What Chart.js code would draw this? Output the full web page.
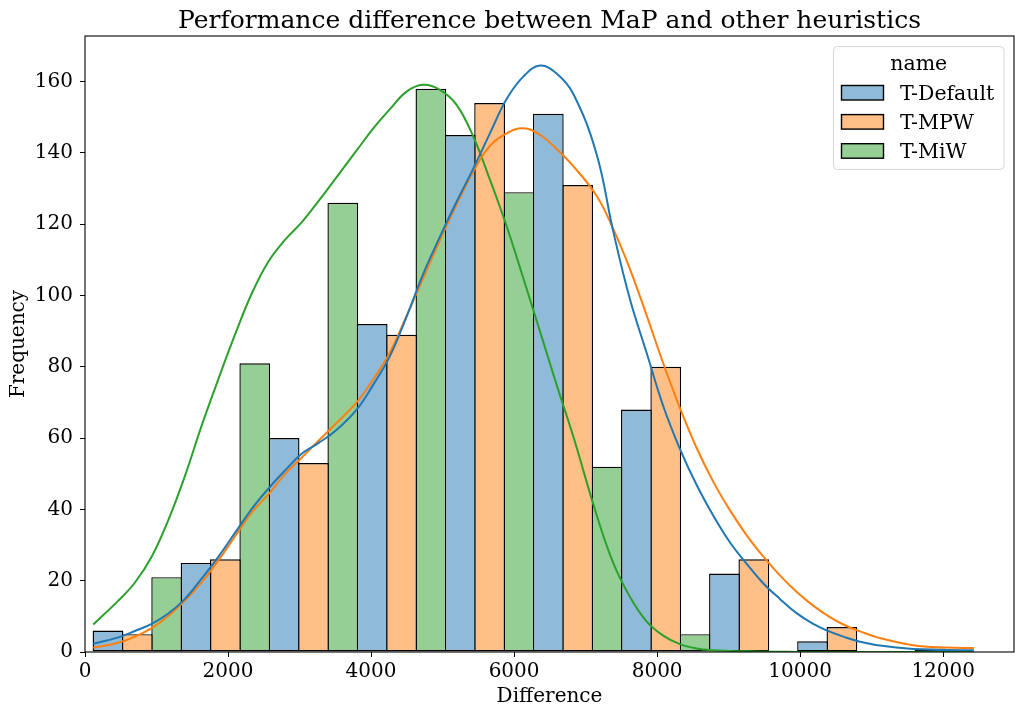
<!DOCTYPE html>
<html>
<head>
<meta charset="utf-8">
<style>
html,body{margin:0;padding:0;background:#ffffff;}
#wrap{width:1024px;height:715px;position:relative;}
</style>
<script src="https://cdn.jsdelivr.net/npm/chart.js@4.4.0/dist/chart.umd.min.js"></script>
</head>
<body>
<div id="wrap"><canvas id="c" width="1024" height="715"></canvas></div>
<script>
// ---- data ----
const chartTitle = 'Performance difference between MaP and other heuristics';
const xLabel = 'Difference';
const yLabel = 'Frequency';
const legendTitle = 'name';
const seriesNames = ['T-Default', 'T-MPW', 'T-MiW'];
const lineColors = ['#1f77b4', '#ff7f0e', '#2ca02c'];
const barColors = ['#8fbbd9', '#ffbf86', '#95cf95'];

const binEdges = [116, 1347, 2579, 3810, 5042, 6273, 7505, 8736, 9968, 11199, 12431];
const countsDefault = [6, 25, 60, 92, 145, 151, 68, 22, 3, 0];
const countsMPW     = [5, 26, 53, 89, 154, 131, 80, 26, 7, 1];
const countsMiW     = [21, 81, 126, 158, 129, 52, 5, 0, 0, 0];

const kdeX = [116, 466, 699, 932, 1165, 1398, 1631, 1864, 2097, 2330, 2563, 2796, 3029, 3262, 3495,
  3798, 4031, 4264, 4497, 4730, 4963, 5196, 5429, 5662, 5895, 6128, 6361, 6594, 6827,
  7153, 7386, 7619, 7852, 8085, 8318, 8551, 8784, 9017, 9250, 9483, 9716, 9949, 10182, 10415, 10648, 10835,
  11114, 11580, 12046, 12430];
const kdeDefault = [2.3, 4.1, 5.9, 7.9, 10.8, 14.9, 20.6, 26.7, 33.4, 40.1, 45.8, 50.9, 55.6, 58.6, 61.9,
  68.0, 75.0, 83.0, 94.1, 106.1, 116.5, 126.3, 135.6, 145.5, 155.1, 161.4, 164.5, 162.3, 156.6,
  139.7, 118.0, 99.0, 84.0, 69.0, 57.0, 46.9, 38.3, 30.8, 24.8, 19.3, 14.9, 10.9, 7.9, 5.7, 4.0, 2.9,
  1.8, 0.85, 0.55, 0.5];
const kdeMPW = [1.2, 2.6, 4.3, 6.7, 10.1, 14.4, 19.5, 25.7, 32.4, 39.1, 44.2, 49.9, 54.5, 59.2, 63.8,
  70.0, 76.5, 84.0, 94.3, 104.9, 115.5, 125.5, 134.8, 142.0, 145.5, 146.9, 145.1, 141.1, 136.3,
  128.0, 118.7, 107.5, 94.5, 81.0, 68.5, 57.3, 47.8, 39.8, 32.8, 26.8, 21.5, 16.9, 13.0, 9.8, 7.3, 5.8,
  3.9, 1.9, 1.25, 1.1];
const kdeMiW = [7.7, 14.4, 19.5, 26.7, 37.0, 49.4, 63.5, 76.5, 89.0, 100.5, 109.5, 115.6, 120.5, 126.4, 132.6,
  140.7, 146.9, 152.3, 157.2, 159.1, 157.7, 153.5, 144.6, 132.5, 119.5, 104.9, 90.0, 75.0, 60.5,
  38.5, 25.0, 15.5, 8.6, 4.6, 2.2, 1.0, 0.5, 0.3, 0.2, 0.1, 0.05, 0.03, 0.02, 0.01, 0, 0,
  0, 0, 0, 0];

const xTicks = [0, 2000, 4000, 6000, 8000, 10000, 12000];
const yTicks = [0, 20, 40, 60, 80, 100, 120, 140, 160];
const xRange = [0, 12990];
const yRange = [0, 172.8];

// ---- build datasets ----
const FONT = '"DejaVu Serif", "Liberation Serif", serif';
const counts = [countsDefault, countsMPW, countsMiW];
const kdes = [kdeDefault, kdeMPW, kdeMiW];
const nSeries = seriesNames.length;
const EDGE = 1.4;

const barSets = seriesNames.map((name, s) => ({
  type: 'bar',
  label: name,
  data: counts[s].map((c, i) => {
    const w = binEdges[i + 1] - binEdges[i];
    return { x: binEdges[i] + w * (s + 0.5) / nSeries, y: c };
  }),
  backgroundColor: barColors[s],
  borderColor: '#000000',
  borderWidth: EDGE,
  borderSkipped: false,
  grouped: false,
  barPercentage: 1.048,
  categoryPercentage: 1,
  order: 2
}));

const lineSets = seriesNames.map((name, s) => ({
  type: 'line',
  label: name + ' kde',
  data: kdeX.map((x, i) => ({ x: x, y: kdes[s][i] })),
  borderColor: lineColors[s],
  borderWidth: 2,
  pointRadius: 0,
  fill: false,
  tension: 0.4,
  order: 1
}));

const titlePlugin = {
  id: 'mplTitle',
  afterDraw(chart) {
    const { ctx, chartArea: a } = chart;
    ctx.save();
    ctx.fillStyle = '#000';
    ctx.font = '25px ' + FONT;
    ctx.textAlign = 'center';
    ctx.textBaseline = 'alphabetic';
    ctx.fillText(chartTitle, (a.left + a.right) / 2, 28.3);
    ctx.restore();
  }
};

const framePlugin = {
  id: 'frame',
  afterDatasetsDraw(chart) {
    const { ctx, chartArea: a } = chart;
    ctx.save();
    ctx.strokeStyle = '#000';
    ctx.lineWidth = 1.1;
    ctx.strokeRect(a.left, a.top, a.right - a.left, a.bottom - a.top);
    ctx.restore();
  }
};

const legendPlugin = {
  id: 'mplLegend',
  afterDraw(chart) {
    const ctx = chart.ctx;
    const x0 = 833.5, y0 = 46.5, w = 170.5, h = 123, r = 4;
    ctx.save();
    ctx.beginPath();
    ctx.moveTo(x0 + r, y0);
    ctx.lineTo(x0 + w - r, y0);
    ctx.arcTo(x0 + w, y0, x0 + w, y0 + r, r);
    ctx.lineTo(x0 + w, y0 + h - r);
    ctx.arcTo(x0 + w, y0 + h, x0 + w - r, y0 + h, r);
    ctx.lineTo(x0 + r, y0 + h);
    ctx.arcTo(x0, y0 + h, x0, y0 + h - r, r);
    ctx.lineTo(x0, y0 + r);
    ctx.arcTo(x0, y0, x0 + r, y0, r);
    ctx.closePath();
    ctx.fillStyle = 'rgba(255,255,255,0.8)';
    ctx.fill();
    ctx.strokeStyle = '#d6d6d6';
    ctx.lineWidth = 1;
    ctx.stroke();

    ctx.fillStyle = '#000';
    ctx.font = '20.5px ' + FONT;
    ctx.textAlign = 'center';
    ctx.textBaseline = 'alphabetic';
    ctx.fillText(legendTitle, x0 + w / 2, 69.5);
    ctx.textAlign = 'left';
    for (let i = 0; i < nSeries; i++) {
      const cy = 92.5 + i * 29.1;
      ctx.fillStyle = barColors[i];
      ctx.fillRect(841.5, cy - 7, 42, 14.5);
      ctx.strokeStyle = '#000';
      ctx.lineWidth = EDGE;
      ctx.strokeRect(841.5, cy - 7, 42, 14.5);
      ctx.fillStyle = '#000';
      ctx.fillText(seriesNames[i], 900, cy + 7.5);
    }
    ctx.restore();
  }
};

new Chart(document.getElementById('c'), {
  type: 'bar',
  data: { datasets: [...lineSets, ...barSets] },
  options: {
    responsive: false,
    animation: false,
    devicePixelRatio: 1,
    layout: { padding: { left: 0, right: 10, top: 36, bottom: 0 } },
    plugins: {
      legend: { display: false },
      tooltip: { enabled: false },
      title: { display: false }
    },
    scales: {
      x: {
        type: 'linear',
        min: xRange[0],
        max: xRange[1],
        offset: false,
        afterBuildTicks: (scale) => { scale.ticks = xTicks.map(v => ({ value: v })); },
        afterFit: (scale) => { scale.height = 63; },
        grid: { display: true, drawOnChartArea: false, drawTicks: true, tickLength: 5, color: '#000', tickColor: '#000', tickWidth: 1, offset: false },
        border: { display: false },
        ticks: { color: '#000', font: { family: FONT, size: 20, lineHeight: 1.2 }, padding: 3, maxRotation: 0, autoSkip: false, callback: (v) => String(v) },
        title: { display: true, text: xLabel, color: '#000', font: { family: FONT, size: 20, lineHeight: 1.2 }, padding: { top: 0, bottom: 6.5 } }
      },
      y: {
        type: 'linear',
        min: yRange[0],
        max: yRange[1],
        afterBuildTicks: (scale) => { scale.ticks = yTicks.map(v => ({ value: v })); },
        afterFit: (scale) => { scale.width = 85; },
        grid: { display: true, drawOnChartArea: false, drawTicks: true, tickLength: 5, color: '#000', tickColor: '#000', tickWidth: 1 },
        border: { display: false },
        ticks: { color: '#000', font: { family: FONT, size: 20, lineHeight: 1.2 }, padding: 7, autoSkip: false, callback: (v) => String(v) },
        title: { display: true, text: yLabel, color: '#000', font: { family: FONT, size: 20, lineHeight: 1.2 }, padding: { top: 6.5, bottom: 0 } }
      }
    }
  },
  plugins: [framePlugin, titlePlugin, legendPlugin]
});
</script>
</body>
</html>
